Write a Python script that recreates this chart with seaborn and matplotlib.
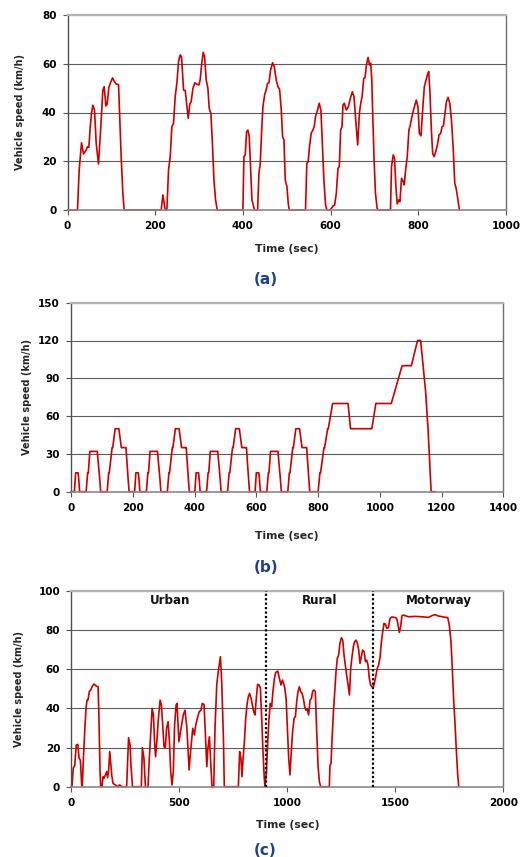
import matplotlib
matplotlib.use("Agg")
import matplotlib.pyplot as plt
import pandas as pd
import seaborn as sns

# ---------------- data ----------------
# (a) speed trace
a_time = [0, 22.8, 26.6, 32, 36.5, 42.6, 45.6, 48.7, 51.7, 54.8, 57.8, 61.6, 65.4, 70.7, 76,
          80.6, 83.7, 87.5, 90.5, 94.3, 98.9, 102.7, 107.2, 111, 116.4, 118.6, 122.4, 126.2, 129.3,
          213.7, 217.5, 222.8, 226.6, 230.4, 234.2, 238, 241.8, 245.6, 249.4, 253.2, 257, 260,
          264.7, 268.5, 272.3, 275.3, 279, 282, 286, 290.5, 295, 299.6, 302.7, 305.7, 309.5,
          312.6, 316.4, 320.2, 323.2, 327, 330.8, 333.9, 337.7, 341.5,
          400, 402.3, 405.3, 408.4, 411.4, 414.5, 417.5, 420.6, 424.4, 426.6, 433.5, 436.5,
          439.6, 442.6, 445.7, 449.5, 453.3, 456.3, 459.3, 463.1, 467.7, 471.5, 476, 479.9,
          483.7, 487.5, 490.5, 493.6, 496.6, 500.4, 503.4, 505.7,
          542.7, 545.8, 548.8, 551.9, 555.7, 559.5, 562.6, 565.6, 570.2, 574, 577.9, 580.9,
          584.7, 588.5, 591.6, 599.2, 605.3, 609.2, 613, 616.8, 619.8, 622.9, 626, 628.2, 631.3,
          635.9, 640.5, 645, 649.6, 653.4, 657.3, 661.8, 665.7, 668.7, 671.8, 675.6, 678.6,
          681.7, 685.5, 688.6, 691.6, 693.9, 696.2, 699.2, 702.3, 706.1, 708.4,
          736.6, 738.9, 742.8, 745.8, 748.9, 751.9, 755, 758, 761.8, 765.7, 768, 771, 774.8,
          778.6, 781.7, 785.5, 790.1, 795.4, 799.2, 802.3, 806.1, 809.9, 813.8, 817.6, 820.6,
          823.7, 826.7, 829.8, 832.8, 835.9, 839.7, 843.5, 847.3, 851.2, 854.2, 857.3, 860.3,
          864.1, 867.9, 871.8, 875.6, 879.4, 883.2, 886.3, 889.3, 891.6, 893.9]
a_speed = [0, 0, 16.4, 27.6, 23, 24.6, 26, 25.7, 34, 39.7, 43, 41, 27.4, 18.9, 34.2,
           49.2, 50.6, 42.7, 43.5, 50.3, 52.6, 54.2, 52.6, 51.7, 51.4, 41, 21.9, 6.8, 0,
           0, 6.2, 0, 0, 16.4, 21.9, 34.2, 35.6, 46.5, 52, 60.9, 63.6, 62.9,
           49.2, 49, 42.4, 37.6, 43.5, 44.4, 49.9, 52.2, 51.6, 51.3, 53.6, 59.5, 64.7,
           62.9, 53.3, 49.9, 41.7, 39.7, 26, 12.3, 4.1, 0,
           0, 21.9, 22.6, 32.1, 32.8, 30.1, 17.8, 4.1, 1.6, 0, 0, 15,
           19.1, 32.1, 42.4, 47.2, 49.5, 52, 52.2, 57.4, 60.4, 58.8, 53.3, 50.6,
           49.5, 41, 30.1, 28.7, 12.3, 9.6, 2.7, 0,
           0, 19.1, 19.8, 26, 31.5, 32.8, 34.2, 38.3, 41, 43.8, 41, 28.7,
           12.3, 2, 0, 0, 1.6, 2, 6.8, 17.1, 17.8, 32.8, 34.2, 43.1, 43.8,
           41, 42.4, 45.8, 48.5, 46.5, 36.9, 26.7, 39.7, 43.8, 46.5, 54, 54.4,
           59.5, 62.6, 59.5, 60.2, 53.3, 38.3, 20.5, 6.8, 0.7, 0,
           0, 17.8, 22.6, 21.2, 9.6, 2.5, 4.1, 3.4, 13, 11.6, 10.3, 16.4, 21.9,
           32.8, 34.9, 38.3, 41.7, 45.1, 42.4, 31.5, 30.4, 41, 50.6, 53.3, 55.4,
           56.8, 47.9, 32.8, 23.2, 21.9, 23.9, 26.7, 30.8, 31.5, 34.2, 34.5, 39,
           44.4, 46.2, 43.8, 36.9, 26, 10.9, 8.9, 5.5, 2.5, 0]

# (b) speed trace
b_time = [0, 11, 15, 23, 25, 28, 49, 54, 56, 61, 85, 93, 96, 117, 122, 124, 133, 135, 143, 155, 163, 176, 178, 185, 188,
          195, 206, 210, 218, 220, 223, 244, 249, 251, 256, 280, 288, 291, 312, 317, 319, 328, 330, 338, 350, 358, 371, 373, 380, 383,
          390, 401, 405, 413, 415, 418, 439, 444, 446, 451, 475, 483, 486, 507, 512, 514, 523, 525, 533, 545, 553, 566, 568, 575, 578,
          585, 596, 600, 608, 610, 613, 634, 639, 641, 646, 670, 678, 681, 702, 707, 709, 718, 720, 728, 740, 748, 761, 763, 770, 773,
          780, 800, 806, 808, 819, 821, 831, 833, 847, 897, 905, 974, 987, 1037, 1072, 1102, 1122, 1132, 1148, 1156, 1166, 1180]
b_speed = [0, 0, 15, 15, 10, 0, 0, 15, 15, 32, 32, 10, 0, 0, 15, 15, 35, 35, 50, 50, 35, 35, 35, 10, 0,
           0, 0, 15, 15, 10, 0, 0, 15, 15, 32, 32, 10, 0, 0, 15, 15, 35, 35, 50, 50, 35, 35, 35, 10, 0,
           0, 0, 15, 15, 10, 0, 0, 15, 15, 32, 32, 10, 0, 0, 15, 15, 35, 35, 50, 50, 35, 35, 35, 10, 0,
           0, 0, 15, 15, 10, 0, 0, 15, 15, 32, 32, 10, 0, 0, 15, 15, 35, 35, 50, 50, 35, 35, 35, 10, 0,
           0, 0, 15, 15, 35, 35, 50, 50, 70, 70, 50, 50, 70, 70, 100, 100, 120, 120, 80, 50, 0, 0]

# (c) speed trace
c_time = [0, 3, 9, 16, 23, 30, 36, 42, 48, 51, 56, 62, 68, 73, 77, 84, 90, 96, 105, 114, 124, 128, 133, 136,
          142, 147, 151, 158, 164, 168, 173, 178, 182, 187, 193, 204, 213, 224, 235, 256, 261, 265, 272,
          276, 283, 324, 329, 336, 343, 355, 361, 367, 374, 380, 386, 390, 397, 403, 411, 417, 423, 429,
          435, 441, 448, 454, 460, 466, 472, 478, 485, 489, 498, 508, 518, 526, 535, 545, 552, 562, 569,
          576, 585, 592, 600, 606, 614, 620, 627, 632, 639, 645, 651, 659, 665, 673, 680, 690, 696, 704,
          708, 773, 779, 785, 790, 795, 801, 807, 813, 819, 825, 832, 838, 844, 850, 856, 862, 869, 875,
          881, 887, 893, 896, 903, 909, 915, 921, 927, 933, 940, 946, 955, 963, 970, 977, 987, 994, 1000,
          1006, 1012, 1018, 1024, 1031, 1037, 1043, 1049, 1055, 1061, 1068, 1074, 1080, 1086, 1092, 1098,
          1105, 1111, 1117, 1123, 1129, 1135, 1142, 1148, 1154, 1194, 1197, 1202, 1206, 1213, 1219, 1225,
          1231, 1237, 1243, 1250, 1256, 1262, 1268, 1274, 1281, 1287, 1293, 1299, 1305, 1311, 1318, 1324,
          1330, 1336, 1342, 1348, 1355, 1361, 1367, 1373, 1379, 1385, 1391, 1398, 1404, 1410, 1416, 1422,
          1429, 1435, 1441, 1447, 1453, 1460, 1467, 1475, 1483, 1495, 1506, 1512, 1518, 1524, 1530, 1536,
          1560, 1590, 1621, 1652, 1668, 1683, 1698, 1722, 1742, 1749, 1757, 1763, 1769, 1776, 1782, 1788, 1793]
c_speed = [0, 0, 9.4, 11, 21.3, 21.6, 14.5, 13.6, 0.9, 0, 14.5, 28, 40, 44.2, 44.2, 48.8, 49.3, 51, 52.4, 51.5, 51, 34.9, 7.7, 0,
           0, 5.1, 4.3, 6, 7.7, 4.6, 8.5, 17.9, 12.8, 6, 1.7, 0.9, 0, 0.9, 0, 0, 14.5, 25, 21.3,
           11, 0, 0, 19.9, 14.5, 0, 0, 14.5, 26.4, 40, 36.6, 21.3, 15.3, 24.7, 34.9, 44.2, 41.7, 31.5, 20.4,
           19.9, 29.8, 33.2, 23, 7.7, 0.9, 7.7, 31.5, 41.7, 42.5, 23, 29.8, 36.6, 39, 29.8, 8.5, 17.9, 29.8, 26.4,
           31.5, 35.7, 38.3, 39, 42.5, 42, 28, 10.2, 19.6, 25.5, 12.8, 0, 0, 29.8, 51.9, 58.7, 66.3, 53.6, 24.7,
           0, 0, 17.9, 14.5, 5.1, 14.5, 23, 34.9, 41.7, 45.9, 47.6, 45, 41.7, 38.3, 36.6, 45, 52.2, 51.9, 50.2,
           34.9, 17.9, 4.3, 0, 7.7, 23, 34.9, 42.5, 40.8, 48.5, 55.3, 58.3, 59, 55.3, 51.9, 54.4, 51, 45, 29.8,
           14.5, 6, 17.9, 28, 34.9, 35.7, 43.4, 48.5, 51, 48.5, 47.6, 45, 40.8, 39, 39.6, 36.6,
           44.2, 45, 48.8, 49.3, 48.5, 29.8, 10.2, 2.6, 0, 0, 11, 11.9, 23, 38.3, 48.5, 58.7,
           65.5, 67.2, 73.1, 76, 74.8, 67.2, 62, 57, 51.9, 46.8, 60.4, 66.3, 71.4, 74, 74.8, 73.1,
           69.7, 62.9, 66.3, 69.7, 68.9, 63.8, 64.6, 62, 55.3, 51.9, 51, 51, 53.6, 57, 60.4, 62,
           66.3, 74, 79, 83.3, 83, 80.8, 81.1, 85.9, 86.6, 86.4, 85.9, 82.5, 78.7, 81.6, 87.2, 87.6,
           86.7, 86.9, 86.7, 86.4, 87.2, 87.8, 87.1, 86.6, 86.2, 82.5, 74, 60.4, 45, 31.5, 17.9, 6, 0]

c_phase_bounds = [903, 1395]
c_phase_names = ["Urban", "Rural", "Motorway"]
c_phase_label_x = [457, 1150, 1699]
c_phase_label_y = 95

panel_letters = ["(a)", "(b)", "(c)"]
x_label = "Time (sec)"
y_label = "Vehicle speed (km/h)"

# ---------------- styling ----------------
sns.set_style("white")
plt.rcParams['font.family'] = ['DejaVu Sans']
plt.rcParams['font.weight'] = 'bold'
plt.rcParams['axes.labelweight'] = 'bold'

W, H = 528, 857
fig = plt.figure(figsize=(W / 100, H / 100), dpi=100)

LINE = "#CC0000"
GRID = "#5c5c5c"
CAPTION = "#1F3F8F"


def add_axes(x0, x1, y0, y1):
    return fig.add_axes([x0 / W, 1 - y1 / H, (x1 - x0) / W, (y1 - y0) / H])


def style(ax, xlim, xticks, ylim, yticks, ylab_x, xlab_y):
    ax.set_xlim(*xlim)
    ax.set_ylim(*ylim)
    ax.set_xticks(xticks)
    ax.set_yticks(yticks)
    ax.yaxis.grid(True, color=GRID, lw=0.8)
    ax.xaxis.grid(False)
    ax.set_axisbelow(True)
    ax.spines['left'].set_color('#505050')
    ax.spines['left'].set_linewidth(1.0)
    ax.spines['bottom'].set_color('#8a8a8a')
    ax.spines['bottom'].set_linewidth(1.2)
    ax.spines['top'].set_color('#b4b4b4')
    ax.spines['top'].set_linewidth(1.6)
    ax.spines['right'].set_color('#707070')
    ax.spines['right'].set_linewidth(1.0)
    ax.tick_params(axis='both', direction='out', length=3.5, width=0.8,
                   color='#555555', labelsize=7.5, pad=4.5, labelcolor='black',
                   left=True, bottom=True)
    ax.set_xlabel(x_label, fontsize=7.8, fontweight='bold')
    ax.set_ylabel(y_label, fontsize=7.0, fontweight='bold')
    ax.xaxis.set_label_coords(0.5, xlab_y)
    ax.yaxis.set_label_coords(ylab_x, 0.5)
    ax.xaxis.label.set_va('center')
    ax.yaxis.label.set_va('center')
    ax.yaxis.label.set_ha('center')


def draw(ax, t, v):
    df = pd.DataFrame({"time": t, "speed": v})
    sns.lineplot(data=df, x="time", y="speed", ax=ax, color=LINE, linewidth=1.2,
                 estimator=None, sort=False, clip_on=False)


# (a)
ax_a = add_axes(67.5, 506, 15, 210)
draw(ax_a, a_time, a_speed)
style(ax_a, (0, 1000), range(0, 1001, 200), (0, 80), range(0, 81, 20), -0.109, -0.20)

# (b)
ax_b = add_axes(71, 503.4, 302.7, 491.7)
draw(ax_b, b_time, b_speed)
style(ax_b, (0, 1400), range(0, 1401, 200), (0, 150), range(0, 151, 30), -0.102, -0.233)

# (c)
ax_c = add_axes(71.3, 503.5, 590.7, 786.7)
draw(ax_c, c_time, c_speed)
style(ax_c, (0, 2000), range(0, 2001, 500), (0, 100), range(0, 101, 20), -0.122, -0.194)
for b in c_phase_bounds:
    ax_c.axvline(b, color='black', linestyle=(0, (1, 1)), linewidth=1.6, zorder=3)
for name, x in zip(c_phase_names, c_phase_label_x):
    ax_c.text(x, c_phase_label_y, name, ha='center', va='center', fontsize=8.6,
              fontweight='bold', color='#111111')

# captions
for letter, (cx, cy) in zip(panel_letters, [(266, 279.5), (266, 567.8), (265.5, 850.4)]):
    fig.text(cx / W, 1 - cy / H, letter, ha='center', va='center', fontsize=11,
             fontweight='bold', color=CAPTION)

fig.savefig("out.png", dpi=100)
